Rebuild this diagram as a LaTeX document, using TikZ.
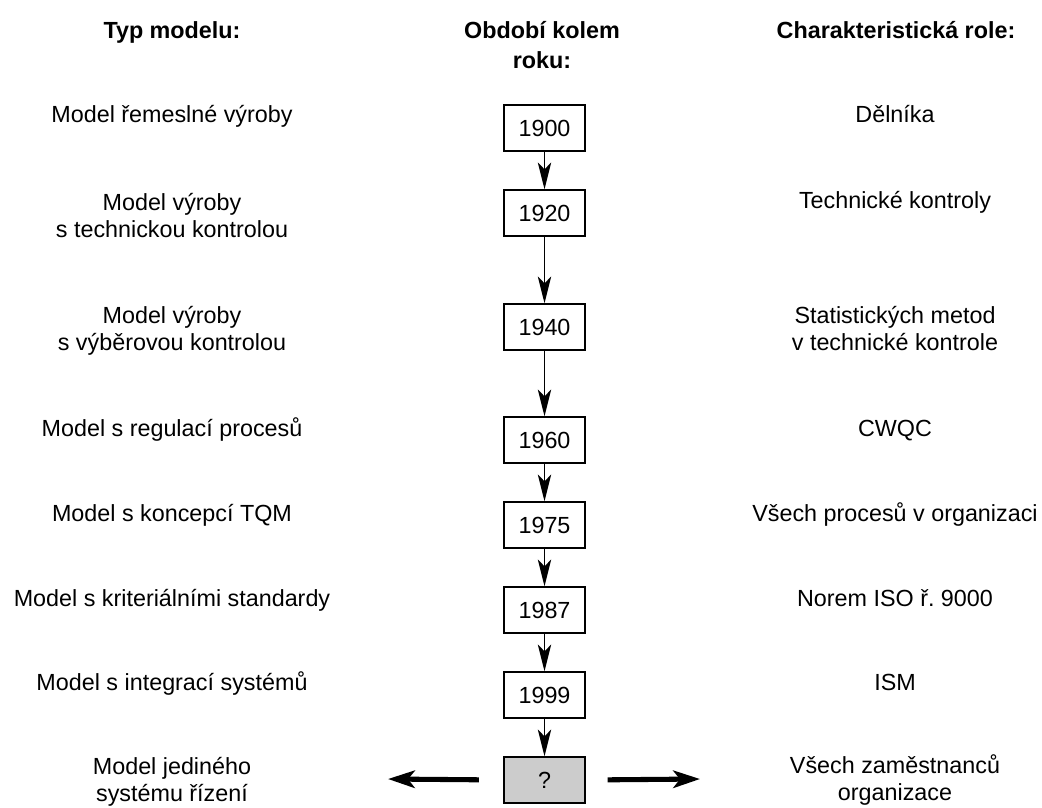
\documentclass[tikz,border=0pt]{standalone}
\usepackage{fontspec}
\setmainfont{Liberation Sans}
\usetikzlibrary{arrows.meta}

\begin{document}
\begin{tikzpicture}[x=0.75pt,y=-0.75pt]
		\tikzstyle{every node}+=[font=\fontsize{17.5}{20.25}\selectfont]
		\tikzstyle{yearbox}=[draw=black,line width=1.6pt,minimum width=61pt,minimum height=34pt,inner sep=0pt]
		\tikzstyle{rowtext}=[anchor=base,align=center,inner sep=0pt]
		\tikzstyle{headtext}=[rowtext,font=\fontsize{17.5}{22.5}\selectfont\bfseries]
		\tikzstyle{yeararrow}=[line width=1.2pt,-{Stealth[length=20pt,width=10pt,inset=5pt]}]
		\tikzstyle{bigarrow}=[line width=3.8pt,-{Stealth[length=20pt,width=13pt,inset=5pt]}]
		\useasboundingbox (0,0) rectangle (1042,807);
		\node [headtext] (hmodel) at (172,38) {Typ modelu:};
		\node [headtext] (hyear) at (542,68) {Období kolem\\roku:};
		\node [headtext] (hrole) at (896,38) {Charakteristická role:};
		\node [yearbox] (y1900) at (544.5,128) {1900};
		\node [yearbox] (y1920) at (544.5,213) {1920};
		\node [yearbox] (y1940) at (544.5,327) {1940};
		\node [yearbox] (y1960) at (544.5,440) {1960};
		\node [yearbox] (y1975) at (544.5,525) {1975};
		\node [yearbox] (y1987) at (544.5,610) {1987};
		\node [yearbox] (y1999) at (544.5,695) {1999};
		\node [yearbox,fill=gray!40] (ynext) at (544.5,780) {?};
		\node [rowtext] (m1900) at (172,122) {Model řemeslné výroby};
		\node [rowtext] (m1920) at (172,237) {Model výroby\\s technickou kontrolou};
		\node [rowtext] (m1940) at (172,350) {Model výroby\\s výběrovou kontrolou};
		\node [rowtext] (m1960) at (172,436) {Model s regulací procesů};
		\node [rowtext] (m1975) at (172,521) {Model s koncepcí TQM};
		\node [rowtext] (m1987) at (172,606) {Model s kriteriálními standardy};
		\node [rowtext] (m1999) at (172,690) {Model s integrací systémů};
		\node [rowtext] (mnext) at (172,801) {Model jediného\\systému řízení};
		\node [rowtext] (r1900) at (895,122) {Dělníka};
		\node [rowtext] (r1920) at (895,208) {Technické kontroly};
		\node [rowtext] (r1940) at (895,350) {Statistických metod\\v technické kontrole};
		\node [rowtext] (r1960) at (895,436) {CWQC};
		\node [rowtext] (r1975) at (895,521) {Všech procesů v organizaci};
		\node [rowtext] (r1987) at (895,606) {Norem ISO ř.\ 9000};
		\node [rowtext] (r1999) at (895,690) {ISM};
		\node [rowtext] (rnext) at (895,800) {Všech zaměstnanců\\organizace};
		\draw [yeararrow] (y1900) -- (y1920);
		\draw [yeararrow] (y1920) -- (y1940);
		\draw [yeararrow] (y1940) -- (y1960);
		\draw [yeararrow] (y1960) -- (y1975);
		\draw [yeararrow] (y1975) -- (y1987);
		\draw [yeararrow] (y1987) -- (y1999);
		\draw [yeararrow] (y1999) -- (ynext);
		\coordinate (lefttip) at (388,779);
		\coordinate (righttip) at (700,779);
		\draw [bigarrow,shorten <=18pt] (ynext.west) -- (lefttip);
		\draw [bigarrow,shorten <=16pt] (ynext.east) -- (righttip);
	\end{tikzpicture}
\end{document}
